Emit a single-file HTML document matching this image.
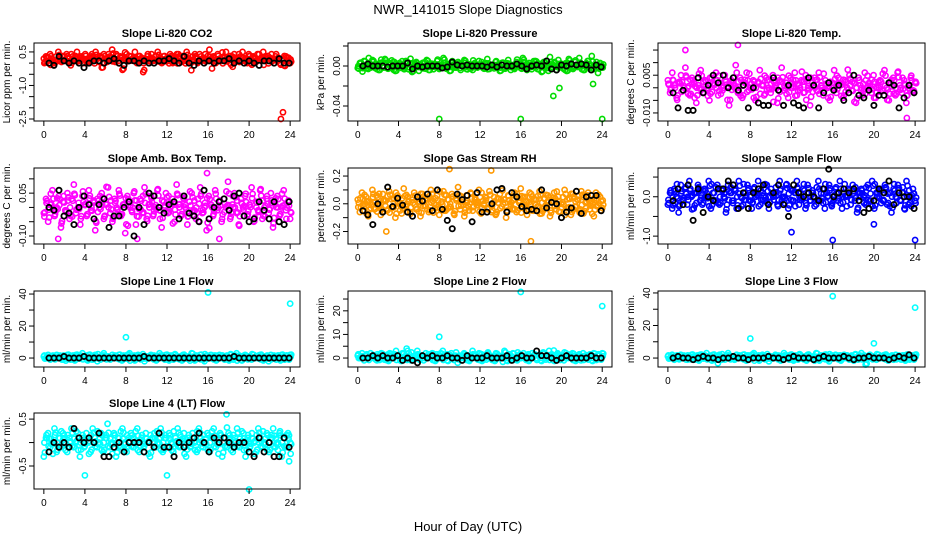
<!DOCTYPE html>
<html><head><meta charset="utf-8">
<style>
html,body{margin:0;padding:0;background:#fff;}
svg{display:block;font-family:"Liberation Sans",Arial,sans-serif;}
</style></head>
<body>
<svg id="chart" width="936" height="540" viewBox="0 0 936 540">
<text x="468" y="14" text-anchor="middle" font-size="13">NWR_141015  Slope Diagnostics</text>
<text x="468" y="531" text-anchor="middle" font-size="13">Hour of Day (UTC)</text>
</svg>
<script>
// ---- data (scaled units per panel) ----
const xTicks = [0,4,8,12,16,20,24];
const titles = ["Slope Li-820 CO2","Slope Li-820 Pressure","Slope Li-820 Temp.","Slope Amb. Box Temp.","Slope Gas Stream RH","Slope Sample Flow","Slope Line 1 Flow","Slope Line 2 Flow","Slope Line 3 Flow","Slope Line 4 (LT) Flow"];
const yTitles = ["Licor ppm per min.","kPa per min.","degrees C per min.","degrees C per min.","percent per min.","ml/min per min.","ml/min per min.","ml/min per min.","ml/min per min.","ml/min per min."];
const scales = [0.1,0.001,0.001,0.01,0.01,0.1,1,1,1,0.1];
const colors = ["#ff0000","#00dd00","#ff00ff","#ff00ff","#ff9900","#0000ff","#00ffff","#00ffff","#00ffff","#00ffff"];
const yLims = [[-2.59,0.9],[-0.055,0.023],[-0.0132,0.0178],[-0.128,0.138],[-0.29,0.258],[-1.2,0.73],[-5.6,41.9],[-3.8,28.4],[-5.5,41.2],[-0.99,0.63]];
const yTickVals = [[0.5,0,-0.5,-1,-1.5,-2,-2.5],[0.02,0,-0.02,-0.04],[0.015,0.01,0.005,0,-0.005,-0.01],[0.1,0.05,0,-0.05,-0.1],[0.2,0.1,0,-0.1,-0.2],[0.5,0,-0.5,-1],[0,10,20,30,40],[0,5,10,15,20,25],[0,10,20,30,40],[0.5,0,-0.5]];
const yTickLabels = [["0.5","","","-1.0","","","-2.5"],["","0.00","","-0.04"],["","","0.005","","","-0.010"],["","0.05","","","-0.10"],["0.2","","0.0","","-0.2"],["","0.0","","-1.0"],["0","","20","","40"],["0","","10","","20",""],["0","","20","","40"],["0.5","","-0.5"]];

const colA = [
[2,3,1,4,2,0,3,5,2,1,3,4,2,-1,3,2,5,1,3,2,4,0,2,3,1,5,2,3,-2,4,2,1,3,6,2,4,1,3,-3,2,4,1,3,2,5,0,3,2,-4,1,3,2,4,1,3,5,2,0,3,2,1,4,2,3,1,4,2,3,1,5,2,0,3,4,2,1,3,2,4,1,6,2,3,0,4,2,1,3,5,2,0,3,4,1,2,3,5,1,2,4,0,3,2,1,4,2,5,3,1,2,4,2,3,1,0,2,-1,3,1,0],
[-2,3,-1,5,0,-3,2,6,-1,1,-4,3,0,7,-2,2,-1,4,-5,1,3,-2,0,5,-3,2,-6,1,4,-1,0,3,-2,6,-4,1,2,-1,5,-3,0,8,-2,1,-5,3,0,-1,4,-2,2,6,-3,0,1,-4,3,-1,5,0,-2,2,7,-3,1,-1,4,0,-5,3,-2,2,6,-1,0,-3,4,1,-2,8,0,-4,3,-1,2,5,-3,1,-6,4,0,-2,9,-1,3,-4,6,0,-2,2,-5,7,1,-3,4,-1,8,0,-4,2,5,-2,10,-3,1,-7,3,0],
[3,-2,6,1,-4,2,5,-1,8,0,-3,4,2,-6,1,7,-2,3,0,-5,4,1,6,-3,2,-1,5,0,-7,3,1,9,-2,4,-4,2,6,-1,0,3,-5,2,7,1,-3,4,0,-2,5,1,-6,3,8,-1,2,-4,4,0,6,-3,1,3,-2,5,0,-7,2,4,-1,6,1,-3,3,0,-5,2,7,-2,4,1,-4,3,0,5,-1,2,-6,4,1,-3,6,0,2,-2,5,-4,1,3,-1,7,0,-5,2,4,-3,6,1,-2,3,-6,0,4,-1,2],
[-2,3,-5,1,6,-3,0,4,-7,2,-1,5,-4,3,8,-2,0,-6,4,1,-3,6,-1,2,-8,3,0,5,-4,1,7,-2,-5,3,0,6,-3,1,-9,4,2,-1,5,-6,0,3,-2,7,-4,1,4,-3,0,6,-1,-7,2,5,-2,0,3,-5,8,1,-3,4,0,-6,2,5,-1,-4,3,7,-2,0,-8,4,1,-3,6,-1,2,-5,3,0,9,-4,1,5,-2,-6,3,0,4,-3,1,7,-5,2,-1,6,-4,0,3,-2,5,-7,1,4,-3,0,6,-1,2,-4],
[3,-6,8,-2,5,-9,1,10,-4,6,-1,-8,7,2,-5,9,-3,4,-10,6,0,-7,11,-2,5,-6,3,8,-4,1,-9,7,-1,4,-6,10,2,-3,6,-8,1,9,-5,3,-2,7,-7,4,12,-4,1,-9,6,-2,8,-5,3,-1,10,-7,2,5,-3,9,-6,1,-8,4,7,-2,3,-10,6,0,-4,8,-6,2,11,-3,5,-8,1,7,-5,3,-2,9,-7,4,-1,6,-9,2,8,-4,5,-6,1,10,-3,4,-8,7,-2,3,-5,9,-7,1,6,-4,2,-9,8,-1,5,-3],
[-2,1,-3,2,0,-4,3,-1,2,-2,4,0,-3,1,3,-1,-2,2,0,4,-3,1,-1,3,-2,2,0,-4,3,1,-1,2,-3,4,0,-2,1,3,-1,-3,2,0,4,-2,1,-1,3,-3,2,0,1,-2,4,-1,0,3,-3,2,-1,1,4,-2,0,2,-3,3,-1,1,0,-2,4,-1,2,-3,1,3,-2,0,2,-1,4,-3,1,0,2,-2,3,-1,-4,1,2,0,-2,3,-1,4,-3,1,0,2,-1,3,-2,1,-4,2,0,3,-1,1,-3,4,-2,0,2,-1],
[1,0,2,-1,1,0,2,1,0,-1,1,2,0,1,-1,2,1,0,3,1,-1,2,0,1,2,-2,0,1,3,0,1,-1,2,0,1,2,-1,0,1,2,3,0,-1,1,2,0,1,-2,1,0,2,1,-1,0,3,1,0,2,-1,1,0,2,1,0,-1,2,1,0,1,3,-1,0,1,2,0,-2,1,0,2,1,-1,0,2,1,0,1,-1,2,0,1,3,0,-1,1,2,0,1,-1,2,0,1,2,-1,0,1,-2,2,1,0,1,-1,2,0,1,0,2],
[1,0,2,-1,1,0,2,1,0,-1,1,2,0,1,-1,2,1,0,3,1,-1,2,0,4,2,-1,0,1,3,0,1,-1,2,0,1,2,-1,0,1,2,3,0,-1,1,2,0,1,-2,1,0,2,1,-1,0,3,1,0,2,-1,1,0,2,1,0,-1,2,1,0,1,3,-1,0,1,2,0,-1,1,0,2,1,-1,0,2,1,0,1,-1,2,0,1,3,0,-1,1,2,0,1,-1,2,0,1,2,-1,0,1,-1,2,1,0,1,-1,2,0,1,0,2],
[1,0,2,-1,1,0,2,1,0,-1,1,2,0,1,-1,2,1,0,3,1,-1,2,0,1,2,-1,0,1,3,0,1,-1,2,0,1,2,-1,0,1,2,3,0,-1,1,2,0,1,-2,1,0,2,1,-1,0,3,1,0,2,-1,1,0,2,1,0,-1,2,1,0,1,3,-1,0,1,2,0,-2,1,0,2,1,-1,0,2,1,0,1,-1,2,0,1,3,0,-4,1,2,0,1,-1,2,0,1,2,-1,0,1,-1,2,1,0,1,-1,2,0,1,0,2],
[-3,1,2,-1,0,3,-2,1,-1,2,0,-2,1,3,-1,0,2,-3,1,-1,2,0,-2,3,1,-1,0,2,-2,1,4,-1,0,2,-3,1,-1,3,0,-2,1,2,-1,0,3,-2,1,-1,2,0,-3,1,2,-1,0,3,-2,1,-1,2,0,-2,1,3,-1,0,2,-3,1,-1,2,0,-2,3,1,-1,0,2,-2,1,3,-1,0,2,-3,1,-1,2,0,-2,1,3,-1,0,2,-3,1,-1,2,0,-2,3,1,-1,0,2,-2,1,3,-1,0,2,-3,1,-1,2,0]
];
const outH = [[23.3,23.1],[8,16,24,19.2,19.8,23.1],[6.8,1.7,23.2],[1.4,9.1,15.9,17.1],[17,9,13.1,2.8],[12,16,24,20],[8,16,24],[8,16,24],[8,16,24,20],[4,12,17.8,20,23.9]];
const outV = [[-22,-25],[-53,-53,-53,-30,-22,-18],[17,15,-12],[-11,-11,12,-11],[-27,25,24,-20],[-9,-11,-11,-7],[13,41,34],[9,28,22],[12,38,31,9],[-7,-7,6,-10,-4]];
const blkA = [
[0,-1,3,1,0,1,0,-2,0,1,1,0,1,2,0,-1,1,1,0,1,0,0,1,1,2,1,0,3,0,-1,1,0,1,0,1,1,2,0,1,0,1,0,-1,1,1,0,2,0,0],
[0,2,0,0,0,-1,0,0,0,3,-3,0,-1,0,0,0,-2,-1,4,1,0,1,0,0,0,-1,1,-1,1,0,0,2,0,-3,0,1,0,5,-3,-4,1,0,2,1,2,1,-4,1,-1],
[-2,-8,-1,-9,-9,4,-2,1,5,2,5,0,4,-1,1,-8,0,-6,-7,-7,4,-1,-7,1,-6,-7,-8,4,1,-8,-2,2,-1,1,-5,-2,5,-3,-4,-1,-7,-3,-3,2,1,-8,-4,1,-2],
[0,-1,6,-3,-2,-6,0,4,1,-4,1,3,-7,-3,-3,0,2,-10,0,-6,5,4,0,-2,1,2,-4,4,-2,-3,-5,6,-4,0,2,3,-1,4,5,-3,-5,-4,2,-1,-4,2,-5,-6,2],
[-5,-8,-15,0,-6,12,-2,4,-1,-6,-9,5,2,7,-5,10,-4,-12,-18,7,3,6,-13,8,-6,-6,0,10,11,-6,8,5,-2,-5,-4,-5,10,-3,1,0,-10,-6,-3,9,-7,5,6,6,-5],
[-1,2,-2,3,-6,2,-4,0,-1,2,2,4,3,-3,1,-3,1,2,3,-2,1,3,-2,-5,3,1,0,1,0,-1,2,7,0,1,2,1,2,-1,-4,-3,-1,2,1,4,-2,1,0,0,-3],
[0,0,0,1,0,0,0,1,0,0,0,0,0,0,0,0,0,0,0,1,0,0,0,0,0,0,0,0,0,0,0,0,0,0,0,0,0,1,0,0,0,0,0,0,0,0,0,0,0],
[0,0,1,0,1,0,0,1,-1,0,-1,-2,1,0,1,0,0,1,0,0,-1,1,0,0,0,1,0,0,0,1,-1,0,1,0,0,3,1,1,0,-1,0,1,0,0,0,0,1,0,0],
[0,1,0,0,-1,0,1,0,0,-1,0,0,1,0,0,-1,0,0,0,1,0,0,-1,0,1,0,0,0,-1,0,1,0,0,0,1,0,-1,0,0,1,0,0,0,-1,0,1,0,2,0],
[-2,0,-1,0,-1,3,1,0,1,0,2,-3,-3,-1,0,-2,0,0,0,-2,0,-1,2,-1,-1,-3,0,-1,0,1,2,0,-2,1,0,1,0,-1,0,0,-2,-3,1,-2,0,-3,-3,1,-1]
];

// ---- layout ----
const colL=[34,348,658], colR=[300,612,925];
const rowT=[43,168,291,413], rowB=[121,244,367,489];
const svg=document.getElementById('chart');
const NS='http://www.w3.org/2000/svg';
function mk(tag,attrs,parent){const e=document.createElementNS(NS,tag);for(const k in attrs)e.setAttribute(k,attrs[k]);(parent||svg).appendChild(e);return e;}

for(let p=0;p<10;p++){
  const c=p%3, r=Math.floor(p/3);
  const L=colL[c],R=colR[c],T=rowT[r],B=rowB[r];
  const xs=h=>L+(h+0.96)/25.92*(R-L);
  const [y0,y1]=yLims[p];
  const ys=v=>B-(v-y0)/(y1-y0)*(B-T);
  const g=mk('g',{});
  
  
  const t=mk('text',{x:(L+R)/2,y:T-6,'text-anchor':'middle','font-size':11,'font-weight':'bold'},g);
  t.textContent=titles[p];
  
  
  const yt=mk('text',{transform:`translate(${L-24},${(T+B)/2}) rotate(-90)`,'text-anchor':'middle','font-size':10},g);
  yt.textContent=yTitles[p];
  
  
  // points
  const sc=scales[p], col=colors[p];
  const pts=mk('g',{fill:'none',stroke:col,'stroke-width':1.6},g);
  
  
  const a=colA[p];
  const n=a.length;
  a.forEach((v,i)=>{
    const h=i*24/(n-1);
    const cc=mk('circle',{cx:xs(h),cy:ys(v*sc),r:2.6},pts);
    
    
    const cc2=mk('circle',{cx:xs(h+0.1),cy:ys(v*sc*0.6+(i%2?1:-1)*(y1-y0)*0.02),r:2.6},pts);
    
    
    const cc3=mk('circle',{cx:xs(h+0.05),cy:ys(a[n-1-i]*sc*0.8),r:2.6},pts);
    
    
  });
  outH[p].forEach((h,i)=>{
    const cc=mk('circle',{cx:xs(h),cy:ys(outV[p][i]*sc),r:2.6},pts);
    
    
  });
  const bk=mk('g',{fill:'none',stroke:'#000','stroke-width':1.8},g);
  
  
  const b=blkA[p];
  b.forEach((v,i)=>{
    const h=0.5+i*23.4/(b.length-1);
    const cc=mk('circle',{cx:xs(h),cy:ys(v*sc),r:2.6},bk);
    
    
  });
  // box
  const box=mk('rect',{x:L,y:T,width:R-L,height:B-T,fill:'none',stroke:'#000','stroke-width':1},g);
  
  
  // x axis
  const xa=mk('g',{},g);
  
  
  xTicks.forEach(h=>{
    mk('line',{x1:xs(h),x2:xs(h),y1:B,y2:B+5,stroke:'#000'},xa);
    const tl=mk('text',{x:xs(h),y:B+17,'text-anchor':'middle','font-size':10},xa);
    tl.textContent=h;
    
    
  });
  // y axis
  const ya=mk('g',{},g);
  
  
  yTickVals[p].forEach((v,i)=>{
    const y=ys(v);
    mk('line',{x1:L-5,x2:L,y1:y,y2:y,stroke:'#000'},ya);
    const lab=yTickLabels[p][i];
    if(lab){
      const tl=mk('text',{transform:`translate(${L-8},${y}) rotate(-90)`,'text-anchor':'middle','font-size':10},ya);
      tl.textContent=lab;
      
      
    }
  });
}
</script>
</body></html>
